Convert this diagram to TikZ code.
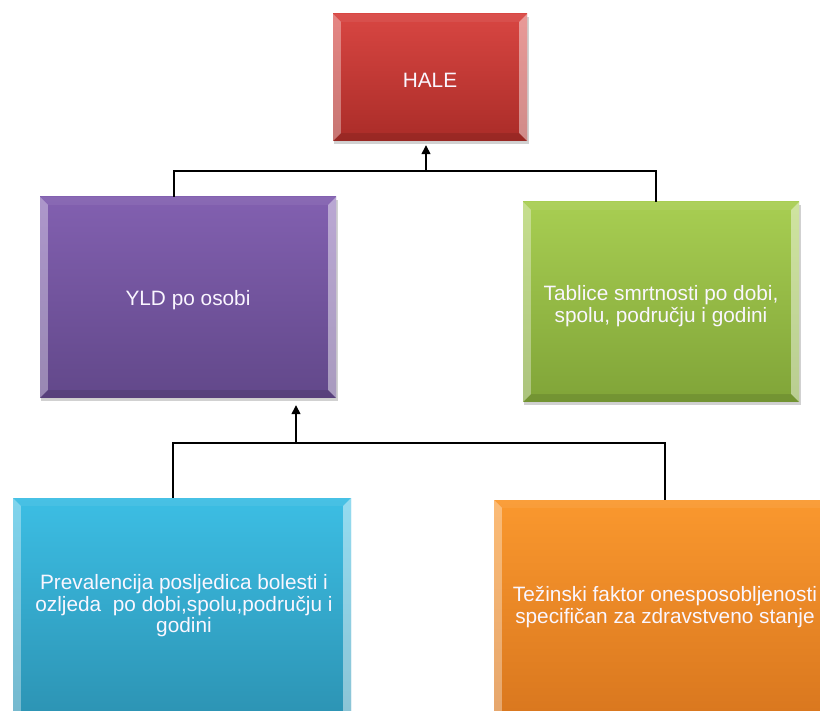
\documentclass[tikz,border=0pt]{standalone}
\usepackage{fontspec}
\setmainfont{Liberation Sans}
\usetikzlibrary{arrows.meta,calc}
\definecolor{redT}{RGB}{216,70,66}
\definecolor{redB}{RGB}{170,44,40}
\definecolor{purT}{RGB}{130,96,176}
\definecolor{purB}{RGB}{98,72,138}
\definecolor{grnT}{RGB}{168,206,82}
\definecolor{grnB}{RGB}{128,164,56}
\definecolor{cyaT}{RGB}{60,190,228}
\definecolor{cyaB}{RGB}{44,146,178}
\definecolor{orgT}{RGB}{250,152,46}
\definecolor{orgB}{RGB}{216,118,30}
\definecolor{txt}{RGB}{250,246,255}
\tikzset{
  x=1pt, y=-1pt,
  box/.style={rectangle, inner sep=0pt, align=center, text=txt,
    font=\fontsize{20.8}{21.5}\selectfont},
  conn/.style={line width=1.4pt, draw=black},
  arr/.style={conn, -{Triangle[length=9pt,width=9pt]}},
}
\newcommand{\bevelbox}[1]{%
  \fill[black, opacity=0.18] ([xshift=1.5pt,yshift=-3pt]#1.north west) rectangle ([xshift=2pt,yshift=-3pt]#1.south east);
}
\newcommand{\bevelfx}[1]{%
  \fill[white, opacity=0.35] (#1.north west) -- (#1.south west) -- ([xshift=8pt,yshift=8pt]#1.south west) -- ([xshift=8pt,yshift=-8pt]#1.north west) -- cycle;
  \fill[white, opacity=0.45] (#1.north east) -- (#1.south east) -- ([xshift=-8pt,yshift=8pt]#1.south east) -- ([xshift=-8pt,yshift=-8pt]#1.north east) -- cycle;
  \fill[white, opacity=0.06] (#1.north west) -- (#1.north east) -- ([xshift=-8pt,yshift=-8pt]#1.north east) -- ([xshift=8pt,yshift=-8pt]#1.north west) -- cycle;
  \fill[black, opacity=0.10] (#1.south west) -- (#1.south east) -- ([xshift=-8pt,yshift=8pt]#1.south east) -- ([xshift=8pt,yshift=8pt]#1.south west) -- cycle;
}
\begin{document}
\begin{tikzpicture}
\useasboundingbox (0,0) rectangle (820,711);
\path[fill=white] (0,0) rectangle (820,711);
% placeholders for shadows
\path (430,77.5) node[box, minimum width=194pt, minimum height=127pt] (haleS) {};
\path (188,297.5) node[box, minimum width=296pt, minimum height=201pt] (yldS) {};
\path (661,302) node[box, minimum width=276pt, minimum height=200pt] (tabS) {};
\bevelbox{haleS}\bevelbox{yldS}\bevelbox{tabS}
% boxes
\node[box, minimum width=194pt, minimum height=127pt, top color=redT, bottom color=redB] (hale) at (430,77.5) {};
\node[box, minimum width=296pt, minimum height=201pt, top color=purT, bottom color=purB] (yld) at (188,297.5) {};
\node[box, minimum width=276pt, minimum height=200pt, top color=grnT, bottom color=grnB] (tab) at (661,302) {};
\node[box, minimum width=338pt, minimum height=226pt, top color=cyaT, bottom color=cyaB] (prev) at (182,611) {};
\node[box, minimum width=352pt, minimum height=224pt, top color=orgT, bottom color=orgB] (tez) at (670,612) {};
\bevelfx{hale}\bevelfx{yld}\bevelfx{tab}\bevelfx{prev}\bevelfx{tez}
% texts
\node[box] (haleT) at (430,80) {HALE};
\node[box] (yldT) at (188,300) {YLD po osobi};
\node[box] (tabT) at (661,306) {Tablice smrtnosti po dobi,\\spolu, području i godini};
\node[box] (prevT) at (184,606) {Prevalencija posljedica bolesti i\\ozljeda\ \ po dobi,spolu,području i\\godini};
\node[box] (tezT) at (665,607) {Težinski faktor onesposobljenosti\\specifičan za zdravstveno stanje};
% connectors
\coordinate (bar1) at (0,171);
\coordinate (bar2) at (0,443);
\draw[conn] ([xshift=-14pt]yld.north) |- ([xshift=-5pt]tab.north |- bar1) -- ([xshift=-5pt]tab.north);
\draw[arr] ([xshift=-4pt]hale.south |- bar1) -- ([xshift=-4pt,yshift=-4pt]hale.south);
\draw[conn] ([xshift=-9pt]prev.north) |- ([xshift=-5pt]tez.north |- bar2) -- ([xshift=-5pt]tez.north);
\draw[arr] ([xshift=108pt]yld.south |- bar2) -- ([xshift=108pt,yshift=-7pt]yld.south);
\end{tikzpicture}
\end{document}
